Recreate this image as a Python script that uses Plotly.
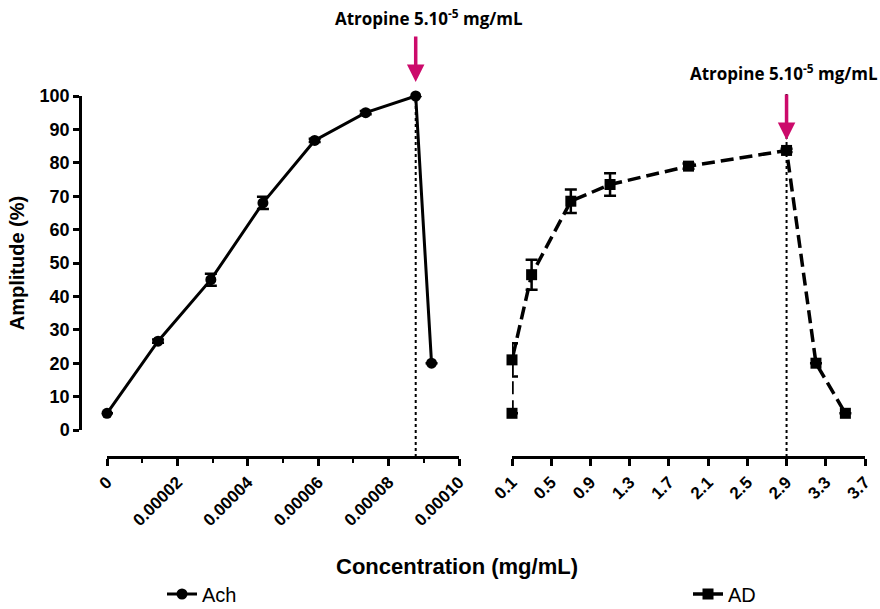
import plotly.graph_objects as go

# ---- data ----
ach_x = [0, 0.0000145, 0.0000295, 0.0000443, 0.000059, 0.0000735, 0.0000877, 0.0000922]
ach_y = [5, 26.6, 45, 68, 86.7, 95, 100, 20]
ach_err = [0, 0.5, 1.8, 1.8, 0.5, 0.5, 0, 0]

ad_x = [0.1, 0.1, 0.3, 0.7, 1.1, 1.9, 2.9, 3.2, 3.5]
ad_y = [5, 21, 46.5, 68.5, 73.5, 79, 83.7, 20, 5]
ad_err = [0, 5, 4.5, 3.5, 3.4, 0.8, 0.5, 0, 0]

left_ticks = [0, 0.00002, 0.00004, 0.00006, 0.00008, 0.00010]
left_ticktext = ["0", "0.00002", "0.00004", "0.00006", "0.00008", "0.00010"]
right_ticks = [0.1, 0.5, 0.9, 1.3, 1.7, 2.1, 2.5, 2.9, 3.3, 3.7]
right_ticktext = ["0.1", "0.5", "0.9", "1.3", "1.7", "2.1", "2.5", "2.9", "3.3", "3.7"]
y_ticks = [0, 10, 20, 30, 40, 50, 60, 70, 80, 90, 100]

atropine_ach_x = 0.0000877
atropine_ad_x = 2.9
annot_text = "Atropine 5.10<sup>-5</sup> mg/mL"

W, H = 880, 609
L, R, T, B = 80, 15, 96, 152
pw = W - L - R
ph = H - T - B

def px_x(p):
    return (p - L) / pw

def px_y(p):
    return (H - B - p) / ph

BLACK = "#000000"
MAG = "#CC0A6B"
tickfont = dict(family="Liberation Sans, Arial", size=17, color=BLACK, weight="bold")
ytickfont = dict(family="Liberation Sans, Arial", size=18, color=BLACK, weight="bold")
legfont = dict(family="Liberation Sans, Arial", size=20, color=BLACK)

fig = go.Figure()
fig.add_trace(go.Scatter(
    x=ach_x, y=ach_y, name="Ach", mode="lines+markers",
    xaxis="x", yaxis="y", legend="legend",
    line=dict(color=BLACK, width=3),
    marker=dict(symbol="circle", size=11, color=BLACK),
    error_y=dict(type="data", array=ach_err, color=BLACK, thickness=2.5, width=6),
    cliponaxis=False,
))
fig.add_trace(go.Scatter(
    x=ad_x, y=ad_y, name="AD", mode="lines+markers",
    xaxis="x2", yaxis="y", legend="legend2",
    line=dict(color=BLACK, width=3.5, dash="13px,6px"),
    marker=dict(symbol="square", size=11, color=BLACK),
    error_y=dict(type="data", array=ad_err, color=BLACK, thickness=2.5, width=6),
    cliponaxis=False,
))

fig.update_layout(
    width=W, height=H,
    margin=dict(l=L, r=R, t=T, b=B, autoexpand=False),
    paper_bgcolor="white", plot_bgcolor="white",
    showlegend=True,
    legend=dict(x=px_x(162), y=px_y(594), xanchor="left", yanchor="middle",
                font=legfont, bgcolor="rgba(0,0,0,0)"),
    legend2=dict(x=px_x(688), y=px_y(594), xanchor="left", yanchor="middle",
                 font=legfont, bgcolor="rgba(0,0,0,0)"),
    xaxis=dict(domain=[px_x(107), px_x(459)], range=[0, 0.0001], anchor="free", position=0,
               showline=True, linecolor=BLACK, linewidth=2.5, showgrid=False, zeroline=False,
               ticks="outside", ticklen=7, tickwidth=2.5, tickcolor=BLACK,
               tickvals=left_ticks, ticktext=left_ticktext, tickangle=-45, tickfont=tickfont,
               automargin=False,
               minor=dict(dtick=0.00001, ticks="outside", ticklen=4, tickwidth=2, tickcolor=BLACK, showgrid=False)),
    xaxis2=dict(domain=[px_x(512), px_x(865)], range=[0.1, 3.7], anchor="free", position=0,
                showline=True, linecolor=BLACK, linewidth=2.5, showgrid=False, zeroline=False,
                ticks="outside", ticklen=7, tickwidth=2.5, tickcolor=BLACK,
                tickvals=right_ticks, ticktext=right_ticktext, tickangle=-45, tickfont=tickfont,
                automargin=False),
    yaxis=dict(domain=[px_y(430), 1], range=[0, 100], anchor="free", position=0,
               showline=True, linecolor=BLACK, linewidth=2.5, showgrid=False, zeroline=False,
               ticks="outside", ticklen=6, tickwidth=2.5, tickcolor=BLACK,
               tickvals=y_ticks, tickfont=ytickfont, automargin=False,
               title=dict(text="Amplitude (%)", standoff=8,
                          font=dict(family="Liberation Sans, Arial", size=20, color=BLACK, weight="bold"))),
)

# dotted reference lines at atropine addition
fig.add_shape(type="line", xref="x", yref="paper", x0=atropine_ach_x, x1=atropine_ach_x,
              y0=0, y1=px_y(96), line=dict(color=BLACK, width=2, dash="dot"), layer="below")
fig.add_shape(type="line", xref="x2", yref="paper", x0=atropine_ad_x, x1=atropine_ad_x,
              y0=0, y1=px_y(93), line=dict(color=BLACK, width=2, dash="dot"), layer="below")

# arrows
fig.add_annotation(x=atropine_ach_x, y=px_y(82), xref="x", yref="paper", text="", showarrow=True,
                   ax=0, ay=-47, arrowhead=2, arrowsize=1, arrowwidth=3.5, arrowcolor=MAG)
fig.add_annotation(x=atropine_ad_x, y=px_y(140), xref="x2", yref="paper", text="", showarrow=True,
                   ax=0, ay=-47, arrowhead=2, arrowsize=1, arrowwidth=3.5, arrowcolor=MAG)

annot_font = dict(family="Open Sans, Noto Sans", size=17, color=BLACK, weight="bold")
fig.add_annotation(x=px_x(429), y=px_y(17), xref="paper", yref="paper", text=annot_text,
                   showarrow=False, font=annot_font, xanchor="center", yanchor="middle")
fig.add_annotation(x=px_x(784), y=px_y(73), xref="paper", yref="paper", text=annot_text,
                   showarrow=False, font=annot_font, xanchor="center", yanchor="middle")

# x-axis title
fig.add_annotation(x=px_x(457), y=px_y(566), xref="paper", yref="paper", text="Concentration (mg/mL)",
                   showarrow=False, xanchor="center", yanchor="middle",
                   font=dict(family="Liberation Sans, Arial", size=22, color=BLACK, weight="bold"))

fig.write_html("out.html", config={"displayModeBar": False},
               post_script="document.body.style.margin='0px';")
